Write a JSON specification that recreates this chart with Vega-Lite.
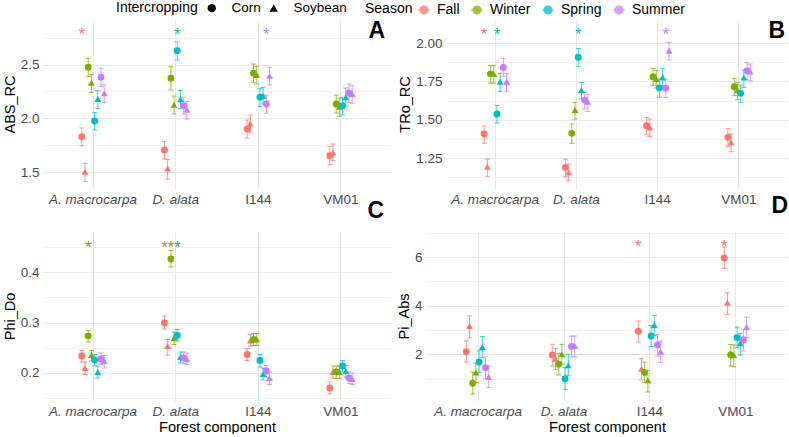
{
  "$schema": "https://vega.github.io/schema/vega-lite/v6.json",
  "padding": {"left": 2, "top": 1, "right": 0, "bottom": 0},
  "datasets": {
    "pts": [
      {"p":"A","f":"A. macrocarpa","s":"Fall","i":"Corn","g":"Fall Corn","m":1.829,"lo":1.745,"hi":1.910},
      {"p":"A","f":"A. macrocarpa","s":"Fall","i":"Soybean","g":"Fall Soybean","m":1.503,"lo":1.413,"hi":1.581},
      {"p":"A","f":"A. macrocarpa","s":"Winter","i":"Corn","g":"Winter Corn","m":2.475,"lo":2.391,"hi":2.559},
      {"p":"A","f":"A. macrocarpa","s":"Winter","i":"Soybean","g":"Winter Soybean","m":2.332,"lo":2.242,"hi":2.407},
      {"p":"A","f":"A. macrocarpa","s":"Spring","i":"Corn","g":"Spring Corn","m":1.975,"lo":1.891,"hi":2.053},
      {"p":"A","f":"A. macrocarpa","s":"Spring","i":"Soybean","g":"Spring Soybean","m":2.180,"lo":2.093,"hi":2.258},
      {"p":"A","f":"A. macrocarpa","s":"Summer","i":"Corn","g":"Summer Corn","m":2.382,"lo":2.298,"hi":2.466},
      {"p":"A","f":"A. macrocarpa","s":"Summer","i":"Soybean","g":"Summer Soybean","m":2.233,"lo":2.146,"hi":2.311},
      {"p":"A","f":"D. alata","s":"Fall","i":"Corn","g":"Fall Corn","m":1.705,"lo":1.621,"hi":1.786},
      {"p":"A","f":"D. alata","s":"Fall","i":"Soybean","g":"Fall Soybean","m":1.534,"lo":1.435,"hi":1.618},
      {"p":"A","f":"D. alata","s":"Winter","i":"Corn","g":"Winter Corn","m":2.373,"lo":2.264,"hi":2.481},
      {"p":"A","f":"D. alata","s":"Winter","i":"Soybean","g":"Winter Soybean","m":2.127,"lo":2.040,"hi":2.208},
      {"p":"A","f":"D. alata","s":"Spring","i":"Corn","g":"Spring Corn","m":2.630,"lo":2.543,"hi":2.711},
      {"p":"A","f":"D. alata","s":"Spring","i":"Soybean","g":"Spring Soybean","m":2.177,"lo":2.093,"hi":2.258},
      {"p":"A","f":"D. alata","s":"Summer","i":"Corn","g":"Summer Corn","m":2.118,"lo":2.040,"hi":2.196},
      {"p":"A","f":"D. alata","s":"Summer","i":"Soybean","g":"Summer Soybean","m":2.080,"lo":1.994,"hi":2.158},
      {"p":"A","f":"I144","s":"Fall","i":"Corn","g":"Fall Corn","m":1.901,"lo":1.817,"hi":1.984},
      {"p":"A","f":"I144","s":"Fall","i":"Soybean","g":"Fall Soybean","m":1.953,"lo":1.870,"hi":2.031},
      {"p":"A","f":"I144","s":"Winter","i":"Corn","g":"Winter Corn","m":2.419,"lo":2.335,"hi":2.506},
      {"p":"A","f":"I144","s":"Winter","i":"Soybean","g":"Winter Soybean","m":2.404,"lo":2.320,"hi":2.484},
      {"p":"A","f":"I144","s":"Spring","i":"Corn","g":"Spring Corn","m":2.196,"lo":2.109,"hi":2.280},
      {"p":"A","f":"I144","s":"Spring","i":"Soybean","g":"Spring Soybean","m":2.211,"lo":2.134,"hi":2.289},
      {"p":"A","f":"I144","s":"Summer","i":"Corn","g":"Summer Corn","m":2.134,"lo":2.047,"hi":2.217},
      {"p":"A","f":"I144","s":"Summer","i":"Soybean","g":"Summer Soybean","m":2.397,"lo":2.311,"hi":2.475},
      {"p":"A","f":"VM01","s":"Fall","i":"Corn","g":"Fall Corn","m":1.652,"lo":1.568,"hi":1.739},
      {"p":"A","f":"VM01","s":"Fall","i":"Soybean","g":"Fall Soybean","m":1.683,"lo":1.606,"hi":1.761},
      {"p":"A","f":"VM01","s":"Winter","i":"Corn","g":"Winter Corn","m":2.134,"lo":2.050,"hi":2.217},
      {"p":"A","f":"VM01","s":"Winter","i":"Soybean","g":"Winter Soybean","m":2.109,"lo":2.019,"hi":2.189},
      {"p":"A","f":"VM01","s":"Spring","i":"Corn","g":"Spring Corn","m":2.118,"lo":2.031,"hi":2.196},
      {"p":"A","f":"VM01","s":"Spring","i":"Soybean","g":"Spring Soybean","m":2.196,"lo":2.109,"hi":2.283},
      {"p":"A","f":"VM01","s":"Summer","i":"Corn","g":"Summer Corn","m":2.236,"lo":2.149,"hi":2.320},
      {"p":"A","f":"VM01","s":"Summer","i":"Soybean","g":"Summer Soybean","m":2.227,"lo":2.140,"hi":2.304},

      {"p":"B","f":"A. macrocarpa","s":"Fall","i":"Corn","g":"Fall Corn","m":1.407,"lo":1.346,"hi":1.459},
      {"p":"B","f":"A. macrocarpa","s":"Fall","i":"Soybean","g":"Fall Soybean","m":1.193,"lo":1.130,"hi":1.243},
      {"p":"B","f":"A. macrocarpa","s":"Winter","i":"Corn","g":"Winter Corn","m":1.798,"lo":1.739,"hi":1.852},
      {"p":"B","f":"A. macrocarpa","s":"Winter","i":"Soybean","g":"Winter Soybean","m":1.798,"lo":1.739,"hi":1.852},
      {"p":"B","f":"A. macrocarpa","s":"Spring","i":"Corn","g":"Spring Corn","m":1.537,"lo":1.478,"hi":1.593},
      {"p":"B","f":"A. macrocarpa","s":"Spring","i":"Soybean","g":"Spring Soybean","m":1.748,"lo":1.685,"hi":1.802},
      {"p":"B","f":"A. macrocarpa","s":"Summer","i":"Corn","g":"Summer Corn","m":1.841,"lo":1.783,"hi":1.900},
      {"p":"B","f":"A. macrocarpa","s":"Summer","i":"Soybean","g":"Summer Soybean","m":1.748,"lo":1.685,"hi":1.802},
      {"p":"B","f":"D. alata","s":"Fall","i":"Corn","g":"Fall Corn","m":1.189,"lo":1.130,"hi":1.243},
      {"p":"B","f":"D. alata","s":"Fall","i":"Soybean","g":"Fall Soybean","m":1.157,"lo":1.102,"hi":1.211},
      {"p":"B","f":"D. alata","s":"Winter","i":"Corn","g":"Winter Corn","m":1.411,"lo":1.346,"hi":1.472},
      {"p":"B","f":"D. alata","s":"Winter","i":"Soybean","g":"Winter Soybean","m":1.563,"lo":1.504,"hi":1.613},
      {"p":"B","f":"D. alata","s":"Spring","i":"Corn","g":"Spring Corn","m":1.907,"lo":1.848,"hi":1.965},
      {"p":"B","f":"D. alata","s":"Spring","i":"Soybean","g":"Spring Soybean","m":1.693,"lo":1.635,"hi":1.743},
      {"p":"B","f":"D. alata","s":"Summer","i":"Corn","g":"Summer Corn","m":1.628,"lo":1.570,"hi":1.678},
      {"p":"B","f":"D. alata","s":"Summer","i":"Soybean","g":"Summer Soybean","m":1.617,"lo":1.554,"hi":1.667},
      {"p":"B","f":"I144","s":"Fall","i":"Corn","g":"Fall Corn","m":1.461,"lo":1.402,"hi":1.515},
      {"p":"B","f":"I144","s":"Fall","i":"Soybean","g":"Fall Soybean","m":1.450,"lo":1.391,"hi":1.504},
      {"p":"B","f":"I144","s":"Winter","i":"Corn","g":"Winter Corn","m":1.780,"lo":1.722,"hi":1.835},
      {"p":"B","f":"I144","s":"Winter","i":"Soybean","g":"Winter Soybean","m":1.765,"lo":1.707,"hi":1.820},
      {"p":"B","f":"I144","s":"Spring","i":"Corn","g":"Spring Corn","m":1.707,"lo":1.646,"hi":1.765},
      {"p":"B","f":"I144","s":"Spring","i":"Soybean","g":"Spring Soybean","m":1.776,"lo":1.715,"hi":1.835},
      {"p":"B","f":"I144","s":"Summer","i":"Corn","g":"Summer Corn","m":1.707,"lo":1.646,"hi":1.765},
      {"p":"B","f":"I144","s":"Summer","i":"Soybean","g":"Summer Soybean","m":1.950,"lo":1.889,"hi":2.004},
      {"p":"B","f":"VM01","s":"Fall","i":"Corn","g":"Fall Corn","m":1.385,"lo":1.326,"hi":1.443},
      {"p":"B","f":"VM01","s":"Fall","i":"Soybean","g":"Fall Soybean","m":1.352,"lo":1.291,"hi":1.407},
      {"p":"B","f":"VM01","s":"Winter","i":"Corn","g":"Winter Corn","m":1.715,"lo":1.657,"hi":1.770},
      {"p":"B","f":"VM01","s":"Winter","i":"Soybean","g":"Winter Soybean","m":1.693,"lo":1.630,"hi":1.743},
      {"p":"B","f":"VM01","s":"Spring","i":"Corn","g":"Spring Corn","m":1.672,"lo":1.613,"hi":1.726},
      {"p":"B","f":"VM01","s":"Spring","i":"Soybean","g":"Spring Soybean","m":1.776,"lo":1.711,"hi":1.824},
      {"p":"B","f":"VM01","s":"Summer","i":"Corn","g":"Summer Corn","m":1.820,"lo":1.761,"hi":1.874},
      {"p":"B","f":"VM01","s":"Summer","i":"Soybean","g":"Summer Soybean","m":1.815,"lo":1.754,"hi":1.863},

      {"p":"C","f":"A. macrocarpa","s":"Fall","i":"Corn","g":"Fall Corn","m":0.233,"lo":0.221,"hi":0.244},
      {"p":"C","f":"A. macrocarpa","s":"Fall","i":"Soybean","g":"Fall Soybean","m":0.209,"lo":0.196,"hi":0.221},
      {"p":"C","f":"A. macrocarpa","s":"Winter","i":"Corn","g":"Winter Corn","m":0.273,"lo":0.261,"hi":0.284},
      {"p":"C","f":"A. macrocarpa","s":"Winter","i":"Soybean","g":"Winter Soybean","m":0.235,"lo":0.223,"hi":0.244},
      {"p":"C","f":"A. macrocarpa","s":"Spring","i":"Corn","g":"Spring Corn","m":0.225,"lo":0.213,"hi":0.236},
      {"p":"C","f":"A. macrocarpa","s":"Spring","i":"Soybean","g":"Spring Soybean","m":0.201,"lo":0.189,"hi":0.213},
      {"p":"C","f":"A. macrocarpa","s":"Summer","i":"Corn","g":"Summer Corn","m":0.227,"lo":0.216,"hi":0.239},
      {"p":"C","f":"A. macrocarpa","s":"Summer","i":"Soybean","g":"Summer Soybean","m":0.223,"lo":0.209,"hi":0.234},
      {"p":"C","f":"D. alata","s":"Fall","i":"Corn","g":"Fall Corn","m":0.299,"lo":0.287,"hi":0.313},
      {"p":"C","f":"D. alata","s":"Fall","i":"Soybean","g":"Fall Soybean","m":0.253,"lo":0.235,"hi":0.266},
      {"p":"C","f":"D. alata","s":"Winter","i":"Corn","g":"Winter Corn","m":0.427,"lo":0.411,"hi":0.444},
      {"p":"C","f":"D. alata","s":"Winter","i":"Soybean","g":"Winter Soybean","m":0.269,"lo":0.256,"hi":0.281},
      {"p":"C","f":"D. alata","s":"Spring","i":"Corn","g":"Spring Corn","m":0.274,"lo":0.263,"hi":0.286},
      {"p":"C","f":"D. alata","s":"Spring","i":"Soybean","g":"Spring Soybean","m":0.231,"lo":0.219,"hi":0.241},
      {"p":"C","f":"D. alata","s":"Summer","i":"Corn","g":"Summer Corn","m":0.229,"lo":0.218,"hi":0.241},
      {"p":"C","f":"D. alata","s":"Summer","i":"Soybean","g":"Summer Soybean","m":0.227,"lo":0.216,"hi":0.239},
      {"p":"C","f":"I144","s":"Fall","i":"Corn","g":"Fall Corn","m":0.236,"lo":0.224,"hi":0.248},
      {"p":"C","f":"I144","s":"Fall","i":"Soybean","g":"Fall Soybean","m":0.264,"lo":0.253,"hi":0.276},
      {"p":"C","f":"I144","s":"Winter","i":"Corn","g":"Winter Corn","m":0.266,"lo":0.254,"hi":0.278},
      {"p":"C","f":"I144","s":"Winter","i":"Soybean","g":"Winter Soybean","m":0.266,"lo":0.254,"hi":0.278},
      {"p":"C","f":"I144","s":"Spring","i":"Corn","g":"Spring Corn","m":0.224,"lo":0.211,"hi":0.236},
      {"p":"C","f":"I144","s":"Spring","i":"Soybean","g":"Spring Soybean","m":0.197,"lo":0.185,"hi":0.209},
      {"p":"C","f":"I144","s":"Summer","i":"Corn","g":"Summer Corn","m":0.203,"lo":0.191,"hi":0.214},
      {"p":"C","f":"I144","s":"Summer","i":"Soybean","g":"Summer Soybean","m":0.189,"lo":0.176,"hi":0.201},
      {"p":"C","f":"VM01","s":"Fall","i":"Corn","g":"Fall Corn","m":0.169,"lo":0.157,"hi":0.181},
      {"p":"C","f":"VM01","s":"Fall","i":"Soybean","g":"Fall Soybean","m":0.201,"lo":0.189,"hi":0.213},
      {"p":"C","f":"VM01","s":"Winter","i":"Corn","g":"Winter Corn","m":0.201,"lo":0.188,"hi":0.213},
      {"p":"C","f":"VM01","s":"Winter","i":"Soybean","g":"Winter Soybean","m":0.201,"lo":0.188,"hi":0.213},
      {"p":"C","f":"VM01","s":"Spring","i":"Corn","g":"Spring Corn","m":0.213,"lo":0.201,"hi":0.224},
      {"p":"C","f":"VM01","s":"Spring","i":"Soybean","g":"Spring Soybean","m":0.203,"lo":0.191,"hi":0.214},
      {"p":"C","f":"VM01","s":"Summer","i":"Corn","g":"Summer Corn","m":0.189,"lo":0.178,"hi":0.201},
      {"p":"C","f":"VM01","s":"Summer","i":"Soybean","g":"Summer Soybean","m":0.187,"lo":0.176,"hi":0.199},

      {"p":"D","f":"A. macrocarpa","s":"Fall","i":"Corn","g":"Fall Corn","m":2.11,"lo":1.68,"hi":2.55},
      {"p":"D","f":"A. macrocarpa","s":"Fall","i":"Soybean","g":"Fall Soybean","m":3.16,"lo":2.68,"hi":3.58},
      {"p":"D","f":"A. macrocarpa","s":"Winter","i":"Corn","g":"Winter Corn","m":0.81,"lo":0.36,"hi":1.27},
      {"p":"D","f":"A. macrocarpa","s":"Winter","i":"Soybean","g":"Winter Soybean","m":1.25,"lo":0.84,"hi":1.63},
      {"p":"D","f":"A. macrocarpa","s":"Spring","i":"Corn","g":"Spring Corn","m":1.68,"lo":1.25,"hi":2.14},
      {"p":"D","f":"A. macrocarpa","s":"Spring","i":"Soybean","g":"Spring Soybean","m":2.30,"lo":1.86,"hi":2.73},
      {"p":"D","f":"A. macrocarpa","s":"Summer","i":"Corn","g":"Summer Corn","m":1.45,"lo":1.00,"hi":1.89},
      {"p":"D","f":"A. macrocarpa","s":"Summer","i":"Soybean","g":"Summer Soybean","m":1.07,"lo":0.63,"hi":1.52},
      {"p":"D","f":"D. alata","s":"Fall","i":"Corn","g":"Fall Corn","m":1.97,"lo":1.52,"hi":2.41},
      {"p":"D","f":"D. alata","s":"Fall","i":"Soybean","g":"Fall Soybean","m":1.82,"lo":1.38,"hi":2.23},
      {"p":"D","f":"D. alata","s":"Winter","i":"Corn","g":"Winter Corn","m":1.59,"lo":1.15,"hi":2.03},
      {"p":"D","f":"D. alata","s":"Winter","i":"Soybean","g":"Winter Soybean","m":2.00,"lo":1.59,"hi":2.41},
      {"p":"D","f":"D. alata","s":"Spring","i":"Corn","g":"Spring Corn","m":1.00,"lo":0.56,"hi":1.45},
      {"p":"D","f":"D. alata","s":"Spring","i":"Soybean","g":"Spring Soybean","m":1.55,"lo":1.14,"hi":2.00},
      {"p":"D","f":"D. alata","s":"Summer","i":"Corn","g":"Summer Corn","m":2.32,"lo":1.89,"hi":2.75},
      {"p":"D","f":"D. alata","s":"Summer","i":"Soybean","g":"Summer Soybean","m":2.34,"lo":1.89,"hi":2.75},
      {"p":"D","f":"I144","s":"Fall","i":"Corn","g":"Fall Corn","m":2.95,"lo":2.51,"hi":3.37},
      {"p":"D","f":"I144","s":"Fall","i":"Soybean","g":"Fall Soybean","m":1.41,"lo":0.95,"hi":1.82},
      {"p":"D","f":"I144","s":"Winter","i":"Corn","g":"Winter Corn","m":1.25,"lo":0.84,"hi":1.68},
      {"p":"D","f":"I144","s":"Winter","i":"Soybean","g":"Winter Soybean","m":0.93,"lo":0.45,"hi":1.34},
      {"p":"D","f":"I144","s":"Spring","i":"Corn","g":"Spring Corn","m":2.75,"lo":2.32,"hi":3.19},
      {"p":"D","f":"I144","s":"Spring","i":"Soybean","g":"Spring Soybean","m":3.21,"lo":2.78,"hi":3.60},
      {"p":"D","f":"I144","s":"Summer","i":"Corn","g":"Summer Corn","m":2.38,"lo":1.93,"hi":2.82},
      {"p":"D","f":"I144","s":"Summer","i":"Soybean","g":"Summer Soybean","m":2.10,"lo":1.66,"hi":2.55},
      {"p":"D","f":"VM01","s":"Fall","i":"Corn","g":"Fall Corn","m":5.96,"lo":5.53,"hi":6.41},
      {"p":"D","f":"VM01","s":"Fall","i":"Soybean","g":"Fall Soybean","m":4.12,"lo":3.64,"hi":4.53},
      {"p":"D","f":"VM01","s":"Winter","i":"Corn","g":"Winter Corn","m":1.97,"lo":1.52,"hi":2.41},
      {"p":"D","f":"VM01","s":"Winter","i":"Soybean","g":"Winter Soybean","m":1.96,"lo":1.49,"hi":2.38},
      {"p":"D","f":"VM01","s":"Spring","i":"Corn","g":"Spring Corn","m":2.68,"lo":2.27,"hi":3.12},
      {"p":"D","f":"VM01","s":"Spring","i":"Soybean","g":"Spring Soybean","m":2.45,"lo":1.97,"hi":2.86},
      {"p":"D","f":"VM01","s":"Summer","i":"Corn","g":"Summer Corn","m":2.59,"lo":2.14,"hi":3.03},
      {"p":"D","f":"VM01","s":"Summer","i":"Soybean","g":"Summer Soybean","m":3.12,"lo":2.68,"hi":3.53}
    ],
    "stars": [
      {"p":"A","f":"A. macrocarpa","s":"Fall","g":"Fall Corn","y":2.81},
      {"p":"A","f":"D. alata","s":"Spring","g":"Spring Corn","y":2.81},
      {"p":"A","f":"I144","s":"Summer","g":"Summer Corn","y":2.81},
      {"p":"B","f":"A. macrocarpa","s":"Fall","g":"Fall Corn","y":2.076},
      {"p":"B","f":"A. macrocarpa","s":"Spring","g":"Spring Corn","y":2.076},
      {"p":"B","f":"D. alata","s":"Spring","g":"Spring Corn","y":2.076},
      {"p":"B","f":"I144","s":"Summer","g":"Summer Corn","y":2.076},
      {"p":"C","f":"A. macrocarpa","s":"Winter","g":"Winter Corn","y":0.458},
      {"p":"C","f":"D. alata","s":"Fall","g":"Fall Corn","y":0.458},
      {"p":"C","f":"D. alata","s":"Winter","g":"Winter Corn","y":0.458},
      {"p":"C","f":"D. alata","s":"Spring","g":"Spring Corn","y":0.458},
      {"p":"D","f":"I144","s":"Fall","g":"Fall Corn","y":6.56},
      {"p":"D","f":"VM01","s":"Fall","g":"Fall Corn","y":6.56}
    ]
  },
  "spacing": -12,
  "vconcat": [
    {
      "bounds": "flush",
      "spacing": 55,
      "hconcat": [
        {
          "width": 348, "height": 170,
          "title": {"text": "A", "anchor": "end", "frame": "group", "fontSize": 23, "fontWeight": "bold", "offset": -42, "baseline": "alphabetic", "dx": -6},
          "encoding": {
            "x": {"field": "f", "type": "nominal", "scale": {"domain": ["A. macrocarpa", "D. alata", "I144", "VM01"], "paddingInner": 0.69, "paddingOuter": 0.45},
                  "axis": {"title": null, "grid": true, "bandPosition": 0.5, "labelAngle": 0, "labelFontStyle": {"condition": {"test": "datum.value === 'I144' || datum.value === 'VM01'", "value": "normal"}, "value": "italic"}}},
            "xOffset": {"field": "g", "type": "nominal", "scale": {"domain": ["Fall Corn", "Fall Soybean", "Winter Corn", "Winter Soybean", "Spring Corn", "Spring Soybean", "Summer Corn", "Summer Soybean"]}}
          },
          "layer": [
            {"data": {"name": "pts"}, "transform": [{"filter": "datum.p === 'A'"}],
             "mark": {"type": "rule", "strokeWidth": 1, "opacity": 0.75},
             "encoding": {"y": {"field": "lo", "type": "quantitative", "title": "ABS_RC", "scale": {"domain": [1.342, 2.925], "nice": false, "zero": false}}, "y2": {"field": "hi"},
                          "color": {"field": "s", "type": "nominal", "scale": {"domain": ["Fall", "Winter", "Spring", "Summer"], "range": ["#F8766D", "#7CAE00", "#00BFC4", "#C77CFF"]}}}},
            {"data": {"name": "pts"}, "transform": [{"filter": "datum.p === 'A'"}],
             "mark": {"type": "tick", "thickness": 1, "size": 5, "opacity": 0.75},
             "encoding": {"y": {"field": "lo", "type": "quantitative", "title": "ABS_RC", "scale": {"domain": [1.342, 2.925], "nice": false, "zero": false}},
                          "color": {"field": "s", "type": "nominal"}}},
            {"data": {"name": "pts"}, "transform": [{"filter": "datum.p === 'A'"}],
             "mark": {"type": "tick", "thickness": 1, "size": 5, "opacity": 0.75},
             "encoding": {"y": {"field": "hi", "type": "quantitative", "title": "ABS_RC", "scale": {"domain": [1.342, 2.925], "nice": false, "zero": false}},
                          "color": {"field": "s", "type": "nominal"}}},
            {"data": {"name": "pts"}, "transform": [{"filter": "datum.p === 'A'"}],
             "mark": {"type": "point", "filled": true, "size": 48, "opacity": 1},
             "encoding": {"y": {"field": "m", "type": "quantitative", "title": "ABS_RC", "scale": {"domain": [1.342, 2.925], "nice": false, "zero": false},
                                "axis": {"values": [1.5, 1.75, 2, 2.25, 2.5, 2.75], "tickCount": 20, "labelOverlap": false,
                                         "labelExpr": "datum.value === 1.5 || datum.value === 2 || datum.value === 2.5 ? format(datum.value, '.1f') : ''",
                                         "gridColor": {"condition": {"test": "datum.value === 1.5 || datum.value === 2 || datum.value === 2.5", "value": "#E8E8E8"}, "value": "#F2F2F2"}}},
                          "color": {"field": "s", "type": "nominal", "scale": {"domain": ["Fall", "Winter", "Spring", "Summer"], "range": ["#F8766D", "#7CAE00", "#00BFC4", "#C77CFF"]},
                                    "legend": {"title": "Season", "orient": "none", "legendX": 322, "legendY": -18, "symbolType": "M-0.75,0L0.75,0M0.5,0A0.5,0.5,0,1,1,-0.5,0A0.5,0.5,0,1,1,0.5,0Z", "symbolSize": 256, "symbolStrokeWidth": 1.2, "labelOffset": 4, "columnPadding": 8, "titlePadding": 2,
                                               "encode": {"symbols": {"update": {"stroke": {"scale": "color", "field": "value"}, "fill": {"scale": "color", "field": "value"}}}}}},
                          "shape": {"field": "i", "type": "nominal", "scale": {"domain": ["Corn", "Soybean"], "range": ["circle", "triangle-up"]},
                                    "legend": {"title": "Intercropping", "orient": "none", "legendX": 73, "legendY": -18, "symbolSize": 70, "symbolFillColor": "black", "symbolStrokeWidth": 0, "labelOffset": 13, "columnPadding": 6, "titlePadding": 7, "labelFontSize": 13.5}}}},
            {"data": {"name": "stars"}, "transform": [{"filter": "datum.p === 'A'"}],
             "mark": {"type": "text", "text": "*", "fontSize": 17, "dy": 4},
             "encoding": {"y": {"field": "y", "type": "quantitative", "title": "ABS_RC", "scale": {"domain": [1.342, 2.925], "nice": false, "zero": false}},
                          "color": {"field": "s", "type": "nominal"}}}
          ]
        },
        {
          "width": 342, "height": 170,
          "title": {"text": "B", "anchor": "end", "frame": "group", "fontSize": 23, "fontWeight": "bold", "offset": -42, "baseline": "alphabetic", "dx": -3},
          "encoding": {
            "x": {"field": "f", "type": "nominal", "scale": {"domain": ["A. macrocarpa", "D. alata", "I144", "VM01"], "paddingInner": 0.69, "paddingOuter": 0.45},
                  "axis": {"title": null, "grid": true, "bandPosition": 0.5, "labelAngle": 0, "labelFontStyle": {"condition": {"test": "datum.value === 'I144' || datum.value === 'VM01'", "value": "normal"}, "value": "italic"}}},
            "xOffset": {"field": "g", "type": "nominal", "scale": {"domain": ["Fall Corn", "Fall Soybean", "Winter Corn", "Winter Soybean", "Spring Corn", "Spring Soybean", "Summer Corn", "Summer Soybean"]}}
          },
          "layer": [
            {"data": {"name": "pts"}, "transform": [{"filter": "datum.p === 'B'"}],
             "mark": {"type": "rule", "strokeWidth": 1, "opacity": 0.75},
             "encoding": {"y": {"field": "lo", "type": "quantitative", "title": "TRo_RC", "scale": {"domain": [1.048, 2.157], "nice": false, "zero": false}}, "y2": {"field": "hi"},
                          "color": {"field": "s", "type": "nominal"}}},
            {"data": {"name": "pts"}, "transform": [{"filter": "datum.p === 'B'"}],
             "mark": {"type": "tick", "thickness": 1, "size": 5, "opacity": 0.75},
             "encoding": {"y": {"field": "lo", "type": "quantitative", "title": "TRo_RC", "scale": {"domain": [1.048, 2.157], "nice": false, "zero": false}},
                          "color": {"field": "s", "type": "nominal"}}},
            {"data": {"name": "pts"}, "transform": [{"filter": "datum.p === 'B'"}],
             "mark": {"type": "tick", "thickness": 1, "size": 5, "opacity": 0.75},
             "encoding": {"y": {"field": "hi", "type": "quantitative", "title": "TRo_RC", "scale": {"domain": [1.048, 2.157], "nice": false, "zero": false}},
                          "color": {"field": "s", "type": "nominal"}}},
            {"data": {"name": "pts"}, "transform": [{"filter": "datum.p === 'B'"}],
             "mark": {"type": "point", "filled": true, "size": 48, "opacity": 1},
             "encoding": {"y": {"field": "m", "type": "quantitative", "title": "TRo_RC", "scale": {"domain": [1.048, 2.157], "nice": false, "zero": false},
                                "axis": {"values": [1.125, 1.25, 1.375, 1.5, 1.625, 1.75, 1.875, 2], "tickCount": 20, "labelOverlap": false,
                                         "labelExpr": "datum.value === 1.25 || datum.value === 1.5 || datum.value === 1.75 || datum.value === 2 ? format(datum.value, '.2f') : ''",
                                         "gridColor": {"condition": {"test": "datum.value === 1.25 || datum.value === 1.5 || datum.value === 1.75 || datum.value === 2", "value": "#E8E8E8"}, "value": "#F2F2F2"}}},
                          "color": {"field": "s", "type": "nominal",
                                    "legend": {"title": "Season", "orient": "none", "legendX": 322, "legendY": -18, "symbolType": "M-0.75,0L0.75,0M0.5,0A0.5,0.5,0,1,1,-0.5,0A0.5,0.5,0,1,1,0.5,0Z", "symbolSize": 256, "symbolStrokeWidth": 1.2, "labelOffset": 4, "columnPadding": 8, "titlePadding": 2,
                                               "encode": {"symbols": {"update": {"stroke": {"scale": "color", "field": "value"}, "fill": {"scale": "color", "field": "value"}}}}}},
                          "shape": {"field": "i", "type": "nominal",
                                    "legend": {"title": "Intercropping", "orient": "none", "legendX": 73, "legendY": -18, "symbolSize": 70, "symbolFillColor": "black", "symbolStrokeWidth": 0, "labelOffset": 13, "columnPadding": 6, "titlePadding": 7, "labelFontSize": 13.5}}}},
            {"data": {"name": "stars"}, "transform": [{"filter": "datum.p === 'B'"}],
             "mark": {"type": "text", "text": "*", "fontSize": 17, "dy": 4},
             "encoding": {"y": {"field": "y", "type": "quantitative", "title": "TRo_RC", "scale": {"domain": [1.048, 2.157], "nice": false, "zero": false}},
                          "color": {"field": "s", "type": "nominal"}}}
          ]
        }
      ]
    },
    {
      "bounds": "flush",
      "spacing": 35,
      "hconcat": [
        {
          "width": 348, "height": 170,
          "title": {"text": "C", "anchor": "end", "frame": "group", "fontSize": 23, "fontWeight": "bold", "offset": -10, "baseline": "alphabetic", "dx": -7},
          "encoding": {
            "x": {"field": "f", "type": "nominal", "scale": {"domain": ["A. macrocarpa", "D. alata", "I144", "VM01"], "paddingInner": 0.69, "paddingOuter": 0.45},
                  "axis": {"title": "Forest component", "grid": true, "bandPosition": 0.5, "labelAngle": 0, "labelFontStyle": {"condition": {"test": "datum.value === 'I144' || datum.value === 'VM01'", "value": "normal"}, "value": "italic"}}},
            "xOffset": {"field": "g", "type": "nominal", "scale": {"domain": ["Fall Corn", "Fall Soybean", "Winter Corn", "Winter Soybean", "Spring Corn", "Spring Soybean", "Summer Corn", "Summer Soybean"]}}
          },
          "layer": [
            {"data": {"name": "pts"}, "transform": [{"filter": "datum.p === 'C'"}],
             "mark": {"type": "rule", "strokeWidth": 1, "opacity": 0.75},
             "encoding": {"y": {"field": "lo", "type": "quantitative", "title": "Phi_Do", "scale": {"domain": [0.143, 0.483], "nice": false, "zero": false}}, "y2": {"field": "hi"},
                          "color": {"field": "s", "type": "nominal"}}},
            {"data": {"name": "pts"}, "transform": [{"filter": "datum.p === 'C'"}],
             "mark": {"type": "tick", "thickness": 1, "size": 5, "opacity": 0.75},
             "encoding": {"y": {"field": "lo", "type": "quantitative", "title": "Phi_Do", "scale": {"domain": [0.143, 0.483], "nice": false, "zero": false}},
                          "color": {"field": "s", "type": "nominal"}}},
            {"data": {"name": "pts"}, "transform": [{"filter": "datum.p === 'C'"}],
             "mark": {"type": "tick", "thickness": 1, "size": 5, "opacity": 0.75},
             "encoding": {"y": {"field": "hi", "type": "quantitative", "title": "Phi_Do", "scale": {"domain": [0.143, 0.483], "nice": false, "zero": false}},
                          "color": {"field": "s", "type": "nominal"}}},
            {"data": {"name": "pts"}, "transform": [{"filter": "datum.p === 'C'"}],
             "mark": {"type": "point", "filled": true, "size": 48, "opacity": 1},
             "encoding": {"y": {"field": "m", "type": "quantitative", "title": "Phi_Do", "scale": {"domain": [0.143, 0.483], "nice": false, "zero": false},
                                "axis": {"values": [0.15, 0.2, 0.25, 0.3, 0.35, 0.4, 0.45], "tickCount": 20, "labelOverlap": false,
                                         "labelExpr": "datum.value === 0.2 || datum.value === 0.3 || datum.value === 0.4 ? format(datum.value, '.1f') : ''",
                                         "gridColor": {"condition": {"test": "datum.value === 0.2 || datum.value === 0.3 || datum.value === 0.4", "value": "#E8E8E8"}, "value": "#F2F2F2"}}},
                          "color": {"field": "s", "type": "nominal",
                                    "legend": {"title": "Season", "orient": "none", "legendX": 322, "legendY": -18, "symbolType": "M-0.75,0L0.75,0M0.5,0A0.5,0.5,0,1,1,-0.5,0A0.5,0.5,0,1,1,0.5,0Z", "symbolSize": 256, "symbolStrokeWidth": 1.2, "labelOffset": 4, "columnPadding": 8, "titlePadding": 2,
                                               "encode": {"symbols": {"update": {"stroke": {"scale": "color", "field": "value"}, "fill": {"scale": "color", "field": "value"}}}}}},
                          "shape": {"field": "i", "type": "nominal",
                                    "legend": {"title": "Intercropping", "orient": "none", "legendX": 73, "legendY": -18, "symbolSize": 70, "symbolFillColor": "black", "symbolStrokeWidth": 0, "labelOffset": 13, "columnPadding": 6, "titlePadding": 7, "labelFontSize": 13.5}}}},
            {"data": {"name": "stars"}, "transform": [{"filter": "datum.p === 'C'"}],
             "mark": {"type": "text", "text": "*", "fontSize": 17, "dy": 4},
             "encoding": {"y": {"field": "y", "type": "quantitative", "title": "Phi_Do", "scale": {"domain": [0.143, 0.483], "nice": false, "zero": false}},
                          "color": {"field": "s", "type": "nominal"}}}
          ]
        },
        {
          "width": 362, "height": 170,
          "title": {"text": "D", "anchor": "end", "frame": "group", "fontSize": 23, "fontWeight": "bold", "offset": -10, "baseline": "alphabetic", "dx": 0},
          "encoding": {
            "x": {"field": "f", "type": "nominal", "scale": {"domain": ["A. macrocarpa", "D. alata", "I144", "VM01"], "paddingInner": 0.69, "paddingOuter": 0.45},
                  "axis": {"title": "Forest component", "grid": true, "bandPosition": 0.5, "labelAngle": 0, "labelFontStyle": {"condition": {"test": "datum.value === 'I144' || datum.value === 'VM01'", "value": "normal"}, "value": "italic"}}},
            "xOffset": {"field": "g", "type": "nominal", "scale": {"domain": ["Fall Corn", "Fall Soybean", "Winter Corn", "Winter Soybean", "Spring Corn", "Spring Soybean", "Summer Corn", "Summer Soybean"]}}
          },
          "layer": [
            {"data": {"name": "pts"}, "transform": [{"filter": "datum.p === 'D'"}],
             "mark": {"type": "rule", "strokeWidth": 1, "opacity": 0.75},
             "encoding": {"y": {"field": "lo", "type": "quantitative", "title": "Pi_Abs", "scale": {"domain": [0.08, 7.07], "nice": false, "zero": false}}, "y2": {"field": "hi"},
                          "color": {"field": "s", "type": "nominal"}}},
            {"data": {"name": "pts"}, "transform": [{"filter": "datum.p === 'D'"}],
             "mark": {"type": "tick", "thickness": 1, "size": 5, "opacity": 0.75},
             "encoding": {"y": {"field": "lo", "type": "quantitative", "title": "Pi_Abs", "scale": {"domain": [0.08, 7.07], "nice": false, "zero": false}},
                          "color": {"field": "s", "type": "nominal"}}},
            {"data": {"name": "pts"}, "transform": [{"filter": "datum.p === 'D'"}],
             "mark": {"type": "tick", "thickness": 1, "size": 5, "opacity": 0.75},
             "encoding": {"y": {"field": "hi", "type": "quantitative", "title": "Pi_Abs", "scale": {"domain": [0.08, 7.07], "nice": false, "zero": false}},
                          "color": {"field": "s", "type": "nominal"}}},
            {"data": {"name": "pts"}, "transform": [{"filter": "datum.p === 'D'"}],
             "mark": {"type": "point", "filled": true, "size": 48, "opacity": 1},
             "encoding": {"y": {"field": "m", "type": "quantitative", "title": "Pi_Abs", "scale": {"domain": [0.08, 7.07], "nice": false, "zero": false},
                                "axis": {"values": [1, 2, 3, 4, 5, 6, 7], "tickCount": 20, "labelOverlap": false,
                                         "labelExpr": "datum.value % 2 === 0 ? format(datum.value, 'd') : ''",
                                         "gridColor": {"condition": {"test": "datum.value % 2 === 0", "value": "#E8E8E8"}, "value": "#F2F2F2"}}},
                          "color": {"field": "s", "type": "nominal",
                                    "legend": {"title": "Season", "orient": "none", "legendX": 322, "legendY": -18, "symbolType": "M-0.75,0L0.75,0M0.5,0A0.5,0.5,0,1,1,-0.5,0A0.5,0.5,0,1,1,0.5,0Z", "symbolSize": 256, "symbolStrokeWidth": 1.2, "labelOffset": 4, "columnPadding": 8, "titlePadding": 2,
                                               "encode": {"symbols": {"update": {"stroke": {"scale": "color", "field": "value"}, "fill": {"scale": "color", "field": "value"}}}}}},
                          "shape": {"field": "i", "type": "nominal",
                                    "legend": {"title": "Intercropping", "orient": "none", "legendX": 73, "legendY": -18, "symbolSize": 70, "symbolFillColor": "black", "symbolStrokeWidth": 0, "labelOffset": 13, "columnPadding": 6, "titlePadding": 7, "labelFontSize": 13.5}}}},
            {"data": {"name": "stars"}, "transform": [{"filter": "datum.p === 'D'"}],
             "mark": {"type": "text", "text": "*", "fontSize": 17, "dy": 4},
             "encoding": {"y": {"field": "y", "type": "quantitative", "title": "Pi_Abs", "scale": {"domain": [0.08, 7.07], "nice": false, "zero": false}},
                          "color": {"field": "s", "type": "nominal"}}}
          ]
        }
      ]
    }
  ],
  "config": {
    "font": "Liberation Sans",
    "view": {"stroke": null},
    "axis": {"domain": false, "ticks": false, "labelFont": "Liberation Sans", "labelFontSize": 13.5, "labelColor": "#4D4D4D", "titleFont": "Liberation Sans", "titleFontSize": 14.5, "titleFontWeight": "normal", "titleColor": "#000000", "gridColor": "#E8E8E8", "gridWidth": 1, "labelPadding": 4, "titlePadding": 3},
    "axisX": {"labelPadding": 3, "titlePadding": 3},
    "axisY": {"labelOverlap": false},
    "title": {"font": "Liberation Sans", "color": "#000000"},
    "legend": {"direction": "horizontal", "titleOrient": "left", "titleFont": "Liberation Sans", "labelFont": "Liberation Sans", "titleFontSize": 14, "labelFontSize": 14, "titleFontWeight": "normal", "titleColor": "#000000", "labelColor": "#000000"}
  }
}
